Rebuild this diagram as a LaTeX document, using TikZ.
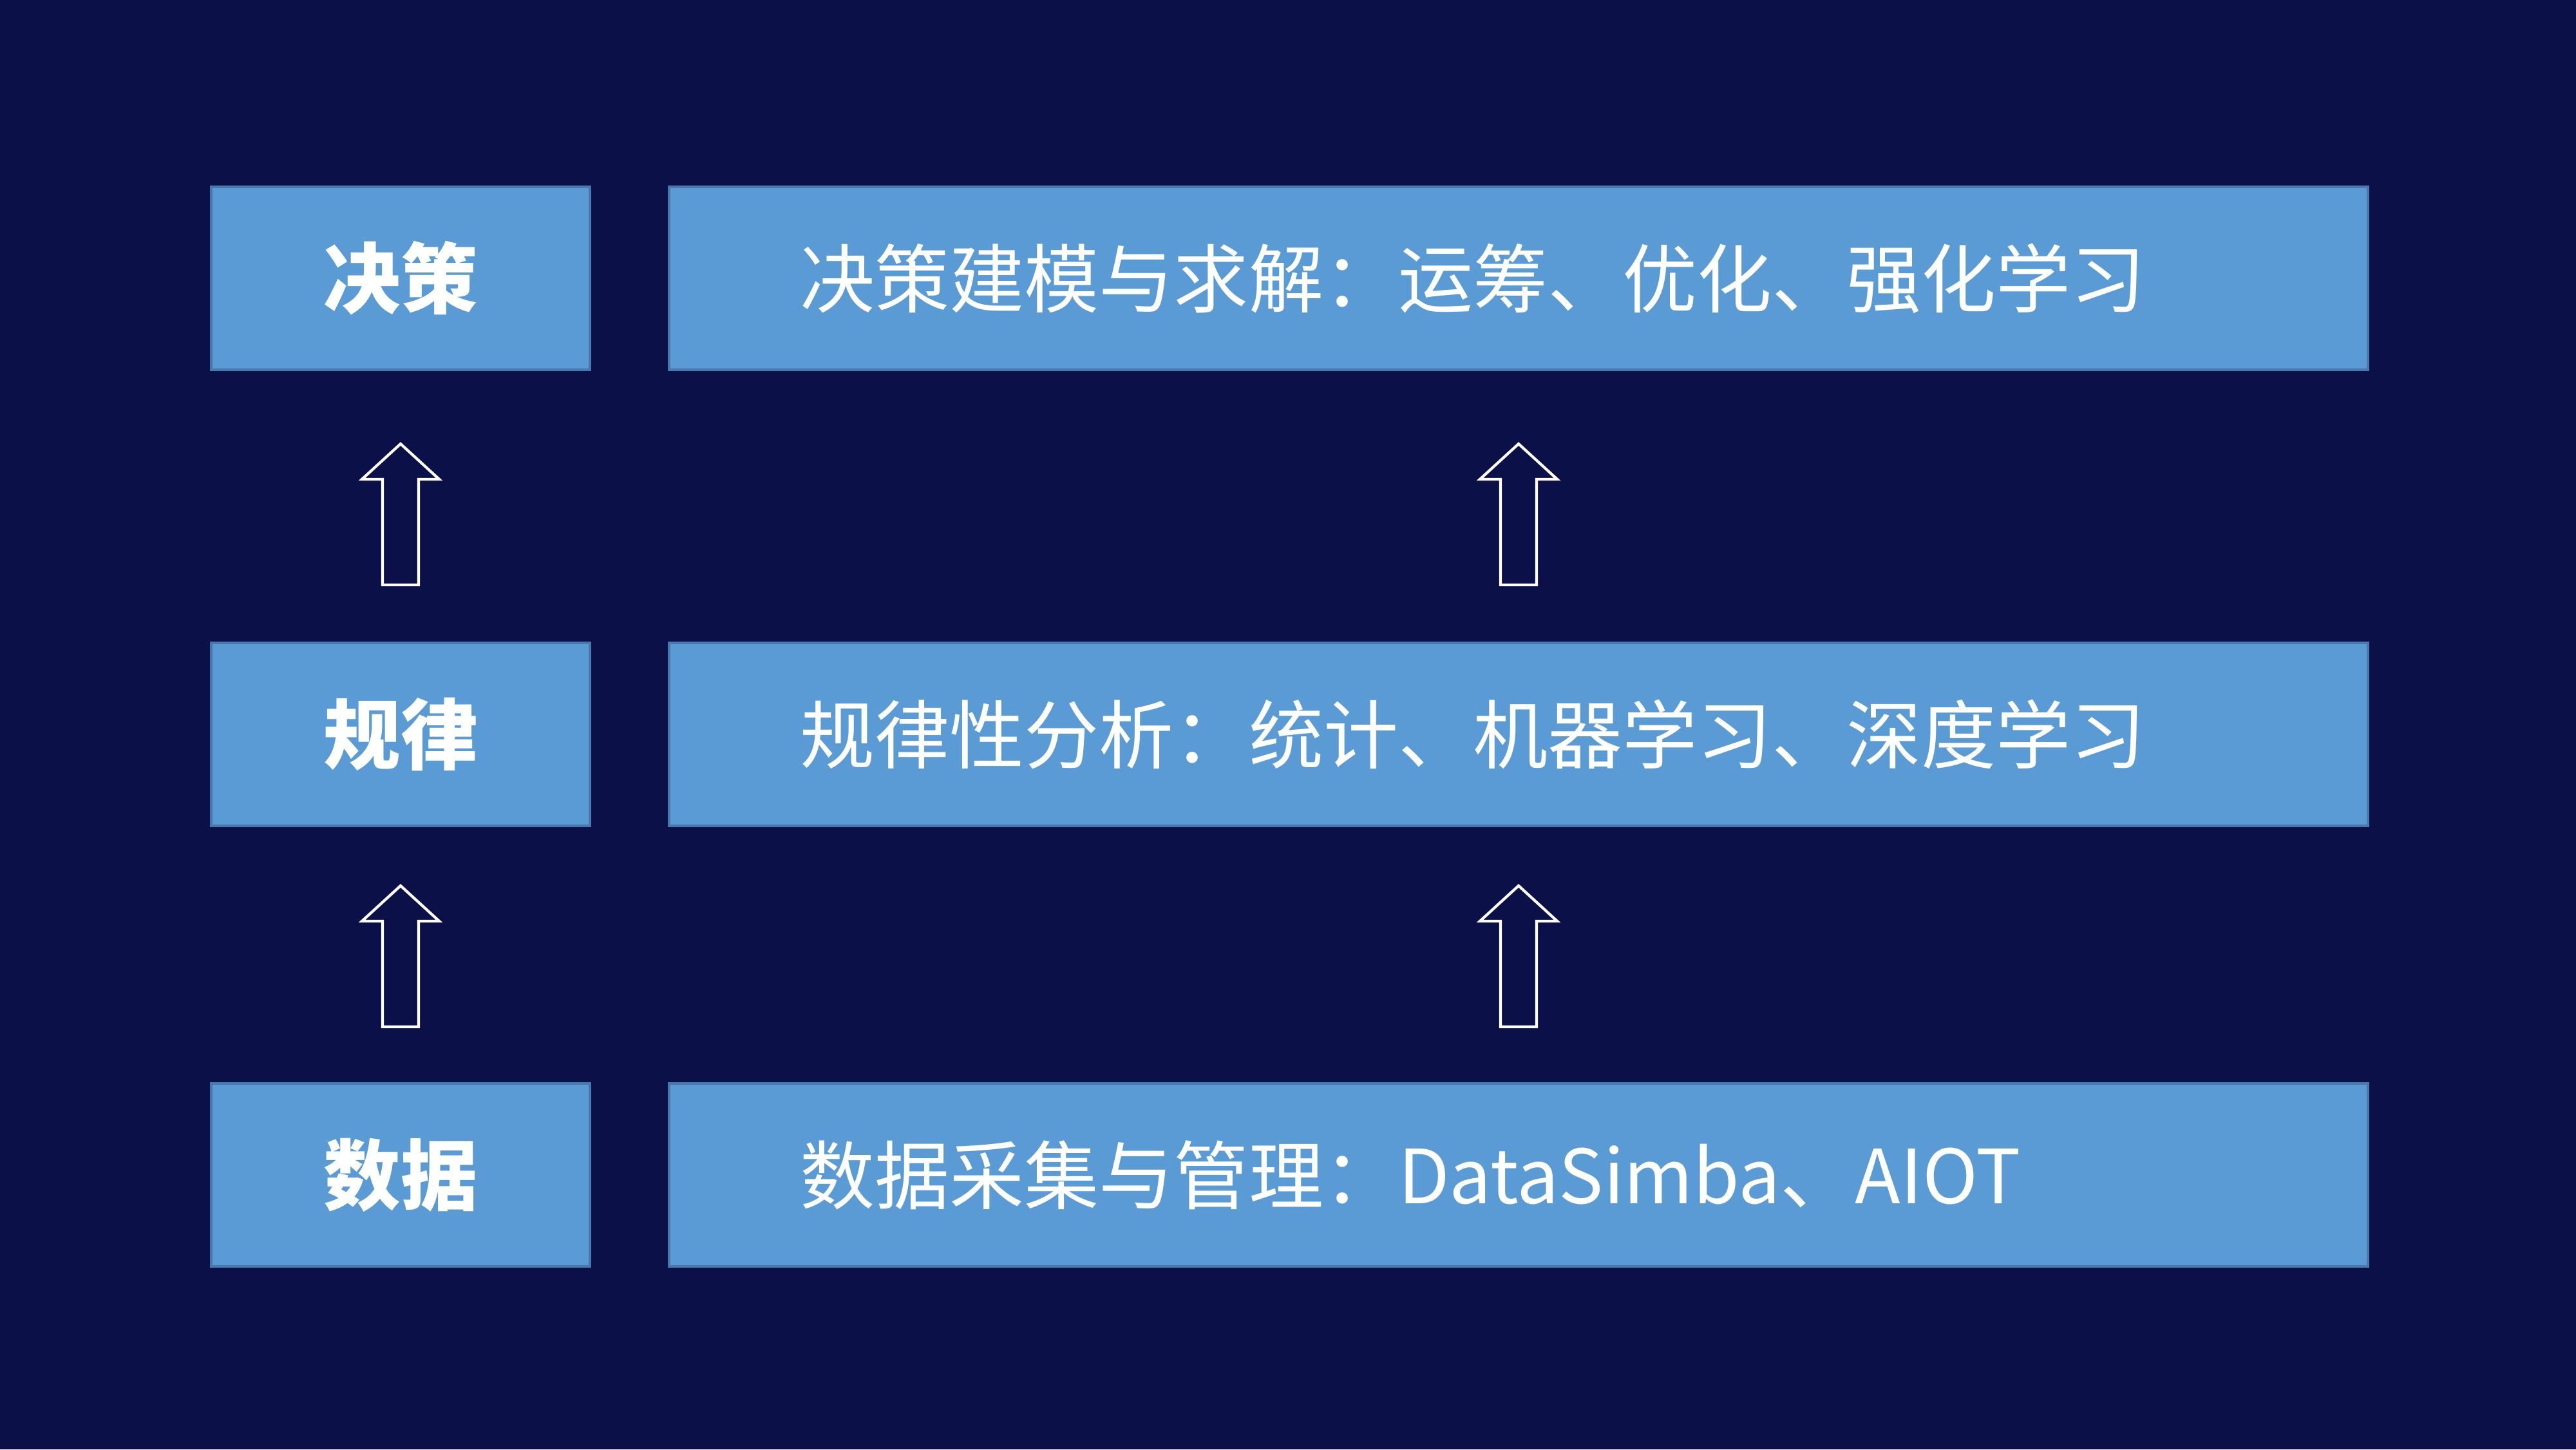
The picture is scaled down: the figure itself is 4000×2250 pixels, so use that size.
\documentclass[tikz,border=0pt]{standalone}
\usepackage{fontspec}
\setmainfont{Noto Sans CJK SC}
\newfontfamily\cjk{Noto Sans CJK SC}
\definecolor{bg}{HTML}{0C1048}
\definecolor{boxfill}{HTML}{5B9BD5}
\definecolor{boxline}{HTML}{4A78AA}
\begin{document}
\begin{tikzpicture}[x=0.01cm,y=-0.01cm,
  layerbox/.style={draw=boxline,line width=1.2pt,fill=boxfill,inner sep=0pt,
    minimum width=587\pgflinewidth*0+5.87cm,minimum height=2.84cm,
    text=white,font=\cjk\fontsize{34}{40}\selectfont\bfseries},
  descbox/.style={draw=boxline,line width=1.2pt,fill=boxfill,inner sep=0pt,
    minimum width=26.36cm,minimum height=2.84cm},
  desctext/.style={text=white,font=\cjk\fontsize{33}{40}\selectfont,anchor=west,inner sep=0pt},
  uparrow/.pic={\draw[white,line width=1.2pt,line join=miter]
    (-28,0) -- (-28,-164) -- (-60,-164) -- (0,-219) -- (60,-164) -- (28,-164) -- (28,0) -- cycle;}
]
\fill[bg] (0,0) rectangle (4000,2250);
\useasboundingbox (0,0) rectangle (4000,2250);

\node[layerbox] (L1) at (622,432) {决策};
\node[layerbox] (L2) at (622,1140) {规律};
\node[layerbox] (L3) at (622,1824) {数据};

\node[descbox] (R1) at (2358,432) {};
\node[descbox] (R2) at (2358,1140) {};
\node[descbox] (R3) at (2358,1824) {};

\node[desctext] (T1) at (1242,432) {决策建模与求解：运筹、优化、强化学习};
\node[desctext] (T2) at (1242,1140) {规律性分析：统计、机器学习、深度学习};
\node[desctext] (T3) at (1242,1824) {数据采集与管理：DataSimba、AIOT};

\coordinate (A1) at (622,908);
\coordinate (A2) at (2358,908);
\coordinate (A3) at (622,1594);
\coordinate (A4) at (2358,1594);
\pic at (A1) {uparrow};
\pic at (A2) {uparrow};
\pic at (A3) {uparrow};
\pic at (A4) {uparrow};
\end{tikzpicture}
\end{document}
